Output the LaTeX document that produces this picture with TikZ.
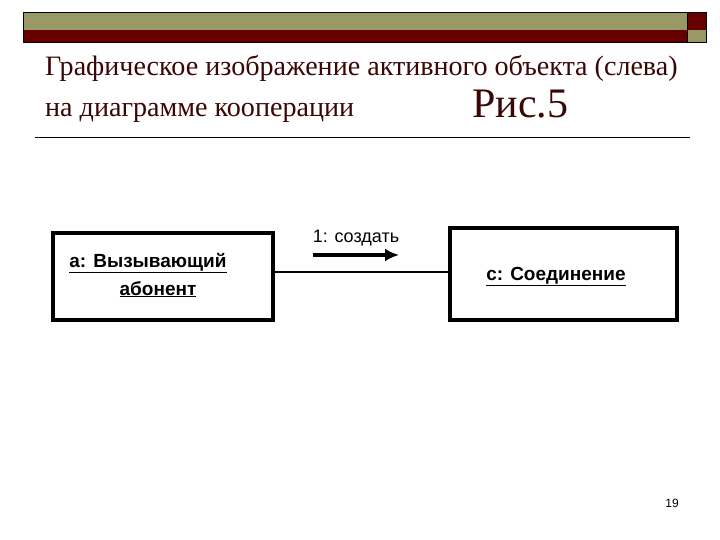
\documentclass[tikz,border=0pt]{standalone}
\usepackage{fontspec}
\setmainfont{Liberation Serif}
\newfontfamily\umlfont{Liberation Sans}
\usetikzlibrary{arrows.meta}
\definecolor{bannerolive}{HTML}{999966}
\definecolor{bannermaroon}{HTML}{660000}
\definecolor{titlered}{HTML}{3A0606}
\tikzset{
	objbox/.style={draw, line width=3.2pt, inner sep=0pt},
	objname/.style={font=\umlfont\bfseries\fontsize{19}{28}\selectfont, anchor=base},
	titletext/.style={text=titlered, anchor=base west, inner sep=0pt, font=\fontsize{28.1}{32}\selectfont}
}

\begin{document}
\begin{tikzpicture}[x=1pt,y=-1pt]
			%%%%% START %%%%%
			\useasboundingbox[fill=white] (0,0) rectangle (720,540);
			
			\fill[bannerolive] (23,12) rectangle (687,30);
			\fill[bannermaroon] (23,30) rectangle (687,42);
			\fill[bannermaroon] (687,12) rectangle (706,30);
			\fill[bannerolive] (687,30) rectangle (706,42);
			\draw[thin] (23,12) rectangle (706,42);
			\draw[thin] (687,12) -- (687,42);
			
			\node[titletext] (title) at (45,76) {Графическое изображение активного объекта (слева)};
			\node[titletext] (subtitle) at (45,117) {на диаграмме кооперации};
			\node[titletext, font=\fontsize{42}{44}\selectfont] (fig) at (472,118) {Рис.5};
			
			\draw[line width=0.8pt] (35,137) -- (690,137);
			
			\node[objbox, minimum width=220pt, minimum height=87pt] (caller) at (163,276.5) {};
			\node[objname] (callername) at (148,267) {\underline{a: Вызывающий}};
			\node[objname] (callername2) at (158,295) {\underline{абонент}};
			
			\node[objbox, minimum width=227pt, minimum height=92pt] (conn) at (563.5,274) {};
			\node[objname] (connname) at (556,280) {\underline{c: Соединение}};
			
			\draw[line width=2pt] ([yshift=4.5pt]caller.east) -- ([yshift=2pt]conn.west);
			
			\coordinate (msgtail) at (313,255);
			\coordinate (msghead) at (399,255);
			\draw[line width=3.2pt, -{Latex[length=14pt,width=13pt]}] (msgtail) -- (msghead);
			\node[font=\umlfont\fontsize{18}{20}\selectfont, anchor=base] (msg) at (356,243) {1: создать};
			
			\node[font=\umlfont\fontsize{12}{13}\selectfont] (pagenum) at (672,503) {19};
			%%%%% END %%%%%
\end{tikzpicture}
\end{document}
